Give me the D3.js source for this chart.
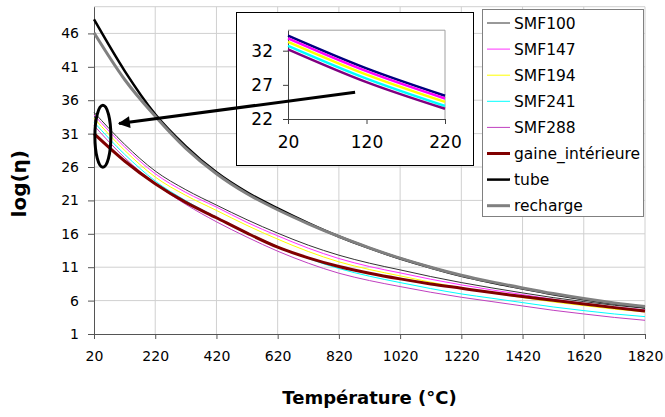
<!DOCTYPE html>
<html>
<head>
<meta charset="utf-8">
<script src="https://cdn.jsdelivr.net/npm/d3@7"></script>
<style>
  html, body { margin: 0; padding: 0; background: #fff; }
  svg { display: block; font-family: "DejaVu Sans", sans-serif; }
</style>
</head>
<body>
<svg id="chart" width="665" height="417"></svg>
<script>
// ---- data ----
const temps = [20,120,220,320,420,520,620,720,820,920,1020,1120,1220,1320,1420,1520,1620,1720,1820];
const SMF100 = [34.2,29.4,25.4,22.6,20.3,18.1,16.1,14.3,12.8,11.6,10.6,9.6,8.7,7.9,7.15,6.45,5.85,5.3,4.85];
const SMF147 = [33.8,29.0,25.0,22.2,20.0,17.7,15.7,13.85,12.3,11.1,10.15,9.2,8.35,7.6,6.9,6.2,5.6,5.05,4.6];
const SMF194 = [33.3,28.5,24.5,21.75,19.5,17.25,15.2,13.35,11.8,10.65,9.7,8.75,7.9,7.15,6.45,5.8,5.25,4.72,4.3];
const SMF241 = [32.7,27.9,23.9,20.95,18.5,16.2,14.1,12.3,10.8,9.65,8.7,7.8,7.0,6.35,5.7,5.05,4.5,4.0,3.6];
const SMF288 = [32.2,27.4,23.5,20.4,17.8,15.5,13.4,11.6,10.1,9.0,8.1,7.25,6.5,5.85,5.2,4.55,4.0,3.48,3.05];
const gaine  = [31.0,26.9,23.5,20.7,18.4,16.1,14.0,12.4,11.1,10.1,9.25,8.5,7.85,7.2,6.6,6.05,5.5,4.95,4.45];
const tube   = [48.1,40.4,33.9,29.1,25.2,22.2,19.8,17.6,15.6,13.85,12.3,10.95,9.7,8.7,7.8,6.95,6.2,5.55,5.0];
const recharge = [46.1,39.1,33.6,28.8,25.0,22.0,19.6,17.5,15.6,13.9,12.35,11.0,9.8,8.8,7.9,7.05,6.3,5.65,5.1];

const seriesNames = ["SMF100","SMF147","SMF194","SMF241","SMF288","gaine_intérieure","tube","recharge"];
const seriesValues = [SMF100,SMF147,SMF194,SMF241,SMF288,gaine,tube,recharge];
const seriesColors = ["#333333","#ff33ff","#ffff00","#00ffff","#c040c0","#800000","#000000","#808080"];
const seriesWidths = [1,1,1,1,1,3,2.5,3];

const xTicks = [20,220,420,620,820,1020,1220,1420,1620,1820];
const yTicks = [1,6,11,16,21,26,31,36,41,46];

// inset
const insetNames = ["SMF100","SMF147","SMF194","SMF241","SMF288"];
const insetColors = ["#000080","#ff00ff","#ffff00","#00ffff","#800080"];
const insetXTicks = [20,120,220];
const insetYTicks = [22,27,32];

// annotation (data coords)
const ellipseCenter = {T: 49, v: 30.6};
const arrowFrom = {T: 873, v: 37.2};
const arrowTo = {T: 102, v: 32.5};

// ---- drawing ----
const svg = d3.select("#chart");
const x = d3.scaleLinear().domain([20,1820]).range([94,645]);
const y = d3.scaleLinear().domain([1,50]).range([334,6.7]);

// gridlines
const grid = svg.append("g");
grid.selectAll("line.h").data(yTicks.slice(1)).join("line")
  .attr("x1", x(20)).attr("x2", x(1820))
  .attr("y1", d => y(d)).attr("y2", d => y(d))
  .attr("stroke", "#d0d0d0").attr("stroke-width", 1);
grid.selectAll("line.v").data(xTicks.slice(1)).join("line")
  .attr("x1", d => x(d)).attr("x2", d => x(d))
  .attr("y1", y(1)).attr("y2", y(50))
  .attr("stroke", "#d0d0d0").attr("stroke-width", 1);
grid.append("line").attr("x1", x(20)).attr("x2", x(1820)).attr("y1", y(50)).attr("y2", y(50))
  .attr("stroke", "#d0d0d0");

// axes
const xAxis = svg.append("g").attr("transform", `translate(0,${y(1)})`)
  .call(d3.axisBottom(x).tickValues(xTicks).tickFormat(d3.format("d")).tickSize(5).tickPadding(12).tickSizeOuter(0));
const yAxis = svg.append("g").attr("transform", `translate(${x(20)},0)`)
  .call(d3.axisLeft(y).tickValues(yTicks).tickFormat(d3.format("d")).tickSize(6).tickPadding(9).tickSizeOuter(0));
[xAxis, yAxis].forEach(a => {
  a.select(".domain").attr("stroke", "#555");
  a.selectAll(".tick line").attr("stroke", "#555");
  a.selectAll("text").attr("font-size", 14).attr("fill", "#000").attr("font-family", "DejaVu Sans");
});

// lines
const line = d3.line().x((d,i) => x(temps[i])).y(d => y(d)).curve(d3.curveMonotoneX);
const lines = svg.append("g").attr("fill", "none");
seriesValues.forEach((vals, k) => {
  lines.append("path").datum(vals)
    .attr("d", line)
    .attr("stroke", seriesColors[k])
    .attr("stroke-width", seriesWidths[k])
    .attr("stroke-linejoin", "round");
});

// axis titles
svg.append("text").attr("x", x(920)).attr("y", 404).attr("text-anchor", "middle")
  .attr("font-size", 18).attr("font-weight", "bold").text("Température (°C)");
svg.append("text").attr("transform", `translate(26,${y(23.5)}) rotate(-90)`).attr("text-anchor", "middle")
  .attr("font-size", 20).attr("font-weight", "bold").text("log(η)");

// legend
const lg = svg.append("g");
lg.append("rect").attr("x", 482.5).attr("y", 9.5).attr("width", 161).attr("height", 207)
  .attr("fill", "#fff").attr("stroke", "#808080");
seriesNames.forEach((name, k) => {
  const yy = 23 + k * 26.1;
  lg.append("line").attr("x1", 487).attr("x2", 510).attr("y1", yy).attr("y2", yy)
    .attr("stroke", seriesColors[k]).attr("stroke-width", seriesWidths[k]);
  lg.append("text").attr("x", 514).attr("y", yy).attr("dy", "0.36em")
    .attr("font-size", 15.5).text(name);
});

// inset
const inset = svg.append("g");
inset.append("rect").attr("x", 236.5).attr("y", 12.5).attr("width", 237).attr("height", 153)
  .attr("fill", "#fff").attr("stroke", "#000").attr("stroke-width", 1);
const xi = d3.scaleLinear().domain([20,220]).range([288,445]);
const yi = d3.scaleLinear().domain([22,35]).range([119,30.2]);
inset.append("path")
  .attr("d", `M${xi(20)},${yi(35)}H${xi(220)}V${yi(22)}`)
  .attr("fill", "none").attr("stroke", "#a0a0a0");
const ixAxis = inset.append("g").attr("transform", `translate(0,${yi(22)})`)
  .call(d3.axisBottom(xi).tickValues(insetXTicks).tickFormat(d3.format("d")).tickSize(5).tickPadding(12).tickSizeOuter(0));
const iyAxis = inset.append("g").attr("transform", `translate(${xi(20)},0)`)
  .call(d3.axisLeft(yi).tickValues(insetYTicks).tickFormat(d3.format("d")).tickSize(5).tickPadding(10).tickSizeOuter(0));
[ixAxis, iyAxis].forEach(a => {
  a.select(".domain").attr("stroke", "#404040");
  a.selectAll(".tick line").attr("stroke", "#404040");
  a.selectAll("text").attr("font-size", 17).attr("fill", "#000").attr("font-family", "DejaVu Sans");
});
const insetIdx = temps.map((t,i) => i).filter(i => temps[i] <= 220);
const iline = d3.line().x(i => xi(temps[i])).curve(d3.curveMonotoneX);
insetNames.forEach((name, k) => {
  const vals = seriesValues[seriesNames.indexOf(name)];
  inset.append("path").datum(insetIdx)
    .attr("d", iline.y(i => yi(vals[i])))
    .attr("fill", "none").attr("stroke", insetColors[k]).attr("stroke-width", 2.5);
});

// annotations
svg.append("ellipse").attr("cx", x(ellipseCenter.T)).attr("cy", y(ellipseCenter.v))
  .attr("rx", 8).attr("ry", 31).attr("fill", "none").attr("stroke", "#000").attr("stroke-width", 3);
svg.append("defs").append("marker").attr("id", "ah")
  .attr("viewBox", "0 0 10 10").attr("refX", 9).attr("refY", 5)
  .attr("markerWidth", 5).attr("markerHeight", 4).attr("markerUnits", "strokeWidth")
  .attr("orient", "auto")
  .append("path").attr("d", "M0,0L10,5L0,10Z").attr("fill", "#000");
svg.append("line").attr("x1", x(arrowFrom.T)).attr("y1", y(arrowFrom.v))
  .attr("x2", x(arrowTo.T)).attr("y2", y(arrowTo.v))
  .attr("stroke", "#000").attr("stroke-width", 3).attr("marker-end", "url(#ah)");
</script>
</body>
</html>
